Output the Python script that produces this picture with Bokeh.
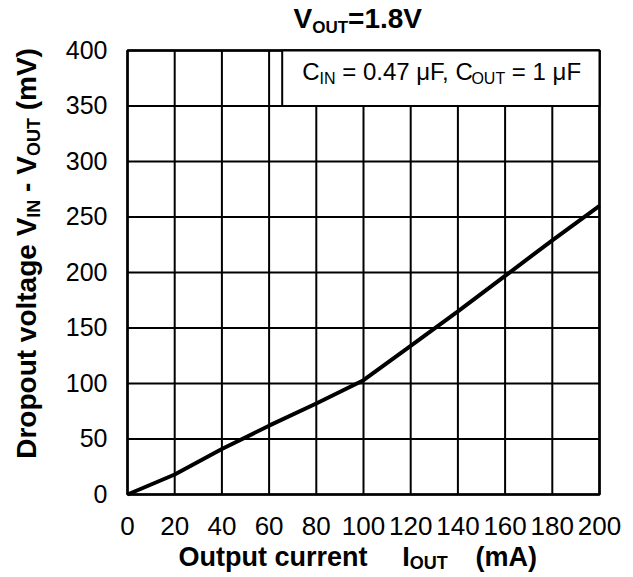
import math
from bokeh.plotting import figure
from bokeh.models import Label, BoxAnnotation, Range1d
from bokeh.core.properties import value
from bokeh.embed import file_html
from bokeh.resources import INLINE

# ---- data ----
current_ma = [0, 20, 40, 60, 80, 100, 120, 140, 160, 180, 200]
dropout_mv = [0, 18, 41, 62, 82, 103, 134, 165, 197, 229, 260]
x_ticks = [0, 20, 40, 60, 80, 100, 120, 140, 160, 180, 200]
y_ticks = [0, 50, 100, 150, 200, 250, 300, 350, 400]
x_tick_labels = [str(t) for t in x_ticks]
y_tick_labels = [str(t) for t in y_ticks]
title_parts = [("V", False), ("OUT", True), ("=1.8V", False)]
xlabel_parts_a = [("Output current", False)]
xlabel_parts_b = [("I", False), ("OUT", True)]
xlabel_parts_c = [("(mA)", False)]
ylabel_parts = [("Dropout voltage V", False), ("IN", True), (" - V", False),
                ("OUT", True), (" (mV)", False)]
note_parts = [("C", False), ("IN", True), (" = 0.47 μF, C", False),
              ("OUT", True), (" = 1 μF", False)]

# ---- layout (canvas pixels) ----
W, H = 633, 577
FL, FT, FW, FH = 127, 50, 472, 444     # data area inside the canvas
XMAX, YMAX = 200, 400
SX, SY = FW / XMAX, FH / YMAX
FONT = "Liberation Sans"
BASE_FIX = 0.37   # renderer places the alphabetic baseline lower by ~0.37 em

p = figure(width=W, height=H, output_backend="svg", toolbar_location=None,
           x_range=Range1d(-FL / SX, XMAX + (W - FL - FW) / SX),
           y_range=Range1d(-(H - FT - FH) / SY, YMAX + FT / SY),
           x_axis_location=None, y_axis_location=None, min_border=0)
p.background_fill_color = "white"
p.border_fill_color = "white"
p.outline_line_color = None
p.grid.visible = False


def dx(px):
    return (px - FL) / SX


def dy(py):
    return (FT + FH - py) / SY


# grid lines from the tick arrays
p.segment(x0=x_ticks, y0=[0] * len(x_ticks), x1=x_ticks, y1=[YMAX] * len(x_ticks),
          line_color="black", line_width=2)
p.segment(x0=[0] * len(y_ticks), y0=y_ticks, x1=[XMAX] * len(y_ticks), y1=y_ticks,
          line_color="black", line_width=2)

# data curve
p.line(current_ma, dropout_mv, line_width=4, line_color="black")

# plot border
p.add_layout(BoxAnnotation(left=0, right=XMAX, bottom=0, top=YMAX,
                           fill_color=None, line_color="black", line_width=2.5,
                           line_alpha=1.0))

# condition box (top right)
p.add_layout(BoxAnnotation(left=dx(281.7), right=XMAX, bottom=350, top=YMAX,
                           fill_color="white", fill_alpha=1.0,
                           line_color="black", line_width=2, line_alpha=1.0))

# tick labels
p.text(x=x_ticks, y=[0] * len(x_ticks), text=x_tick_labels, text_align="center",
       text_baseline="alphabetic", y_offset=41 - BASE_FIX * 26,
       text_font=value(FONT), text_font_size=value("26px"), text_color="black")
p.text(x=[0] * len(y_ticks), y=y_ticks, text=y_tick_labels, text_align="right",
       text_baseline="middle", x_offset=-20, y_offset=-1, text_font=value(FONT),
       text_font_size=value("25px"), text_color="black")

REG = {' ': 278, '=': 584, '0': 556, '.': 278, '4': 556, '7': 556, 'μ': 520,
       'F': 611, ',': 278, 'C': 722, 'I': 278, 'N': 722, 'O': 778, 'U': 722,
       'T': 611, '1': 556}
BOLD = {'V': 667, 'O': 778, 'U': 722, 'T': 611, '=': 584, '1': 556, '.': 278,
        '8': 556, 'D': 722, 'r': 389, 'o': 611, 'p': 611, 'u': 611, 't': 333,
        ' ': 278, 'v': 556, 'l': 278, 'a': 556, 'g': 611, 'e': 556, 'I': 278,
        'N': 722, '-': 333, '(': 333, 'm': 889, ')': 333, 'A': 722, 'c': 556,
        'n': 611}
KERN = {"F,": -111}


def width(s, size, bold):
    tbl = BOLD if bold else REG
    total = sum(tbl.get(c, 556) for c in s)
    total += sum(KERN.get(s[i:i + 2], 0) for i in range(len(s) - 1))
    return total * size / 1000.0


def place(parts, x0, y0, size, subsize, bold, drop, vertical=False):
    pos = x0 if not vertical else y0
    for text, sub in parts:
        sz = subsize if sub else size
        lead = len(text) - len(text.lstrip(" "))
        adv = width(" " * lead, sz, bold)
        pos = pos - adv if vertical else pos + adv
        body = text.strip(" ")
        fix = BASE_FIX * sz
        if vertical:
            lx, ly = x0 + (drop if sub else 0) - fix, pos
        else:
            lx, ly = pos, y0 + (drop if sub else 0) - fix
        p.add_layout(Label(x=dx(lx), y=dy(ly), text=body, text_font=FONT,
                           text_font_size=f"{sz}px",
                           text_font_style="bold" if bold else "normal",
                           text_color="black", text_align="left",
                           text_baseline="alphabetic",
                           angle=math.pi / 2 if vertical else 0))
        wdt = width(text.lstrip(" "), sz, bold)
        pos = pos - wdt if vertical else pos + wdt


place(title_parts, 293, 28.5, 28, 17, True, 4.5)
place(xlabel_parts_a, 178, 566, 27, 18, True, 3.5)
place(xlabel_parts_b, 401.7, 566, 27, 18, True, 3.5)
place(xlabel_parts_c, 475, 566, 27, 18, True, 3.5)
place(ylabel_parts, 36, 458.3, 28, 18, True, 4, vertical=True)
place(note_parts, 301.7, 80, 24, 16, False, 3.5)

open("out.html", "w").write(file_html(p, INLINE))
